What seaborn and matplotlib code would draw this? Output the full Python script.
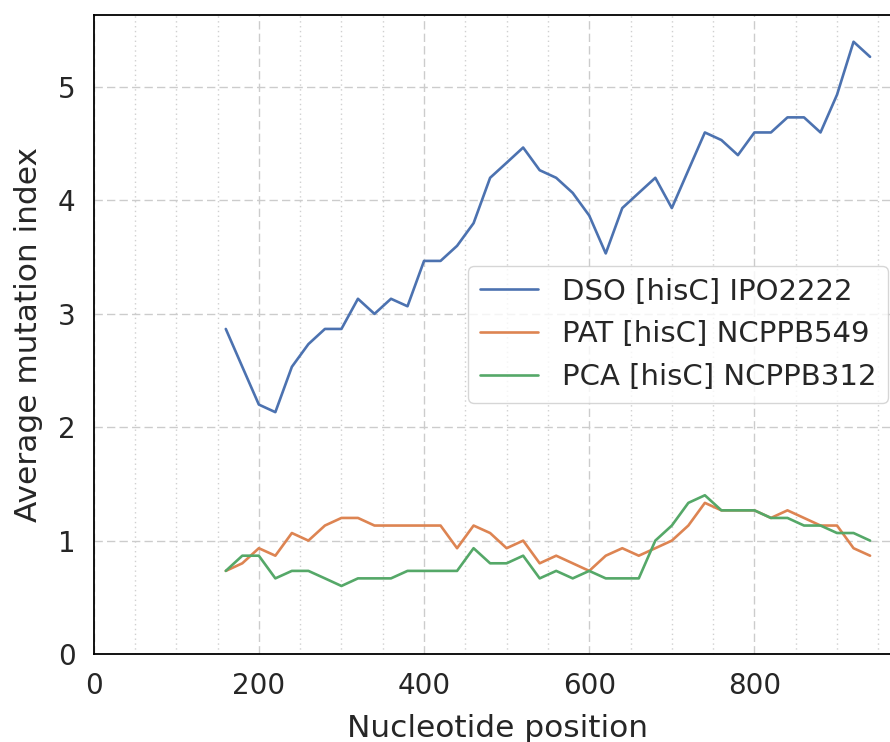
import numpy as np
import pandas as pd
import matplotlib
matplotlib.use("Agg")
import matplotlib.pyplot as plt
from matplotlib.ticker import MultipleLocator
import seaborn as sns

# nucleotide positions (window centres)
positions = list(range(160, 941, 20))

dso = [2.867, 2.533, 2.2, 2.133, 2.533, 2.733, 2.867, 2.867, 3.133, 3.0,
       3.133, 3.067, 3.467, 3.467, 3.6, 3.8, 4.2, 4.333, 4.467, 4.267,
       4.2, 4.067, 3.867, 3.533, 3.933, 4.067, 4.2, 3.933, 4.267, 4.6,
       4.533, 4.4, 4.6, 4.6, 4.733, 4.733, 4.6, 4.933, 5.4, 5.267]

pat = [0.733, 0.8, 0.933, 0.867, 1.067, 1.0, 1.133, 1.2, 1.2, 1.133,
       1.133, 1.133, 1.133, 1.133, 0.933, 1.133, 1.067, 0.933, 1.0, 0.8,
       0.867, 0.8, 0.733, 0.867, 0.933, 0.867, 0.933, 1.0, 1.133, 1.333,
       1.267, 1.267, 1.267, 1.2, 1.267, 1.2, 1.133, 1.133, 0.933, 0.867]

pca = [0.733, 0.867, 0.867, 0.667, 0.733, 0.733, 0.667, 0.6, 0.667, 0.667,
       0.667, 0.733, 0.733, 0.733, 0.733, 0.933, 0.8, 0.8, 0.867, 0.667,
       0.733, 0.667, 0.733, 0.667, 0.667, 0.667, 1.0, 1.133, 1.333, 1.4,
       1.267, 1.267, 1.267, 1.2, 1.2, 1.133, 1.133, 1.067, 1.067, 1.0]

strains = ["DSO [hisC] IPO2222", "PAT [hisC] NCPPB549", "PCA [hisC] NCPPB312"]

df = pd.DataFrame({
    "position": positions * 3,
    "index": dso + pat + pca,
    "strain": [s for s in strains for _ in positions],
})

sns.set_theme(style="whitegrid", palette="deep")
plt.rcParams["font.family"] = ["DejaVu Sans"]

fig = plt.figure(figsize=(8.9, 7.42), dpi=100)
ax = fig.add_axes([0.1052, 0.1186, 0.9086, 0.8618])

sns.lineplot(data=df, x="position", y="index", hue="strain", ax=ax,
             linewidth=1.9)

ax.set_xlim(left=0)
ax.set_ylim(bottom=0)
ax.xaxis.set_major_locator(MultipleLocator(200))
ax.xaxis.set_minor_locator(MultipleLocator(50))

ax.grid(which="major", linestyle=(0, (6, 3)), color="#cccccc", linewidth=1.0)
ax.grid(which="minor", axis="x", linestyle=(0, (1, 2.5)), color="#d0d0d0",
        linewidth=1.0)

for side in ["left", "bottom", "top", "right"]:
    ax.spines[side].set_color("black")
    ax.spines[side].set_linewidth(1.3)

ax.tick_params(axis="both", which="major", labelsize=20, pad=7,
               colors="#262626")
ax.set_xlabel("Nucleotide position", fontsize=22.5, labelpad=10,
              color="#262626")
ax.set_ylabel("Average mutation index", fontsize=22.5, labelpad=11,
              color="#262626")

leg = ax.legend(loc="center right", fontsize=21, frameon=True)
leg.get_frame().set_edgecolor("#cccccc")
for line in leg.get_lines():
    line.set_linewidth(1.9)

fig.savefig("out.png", dpi=100)
